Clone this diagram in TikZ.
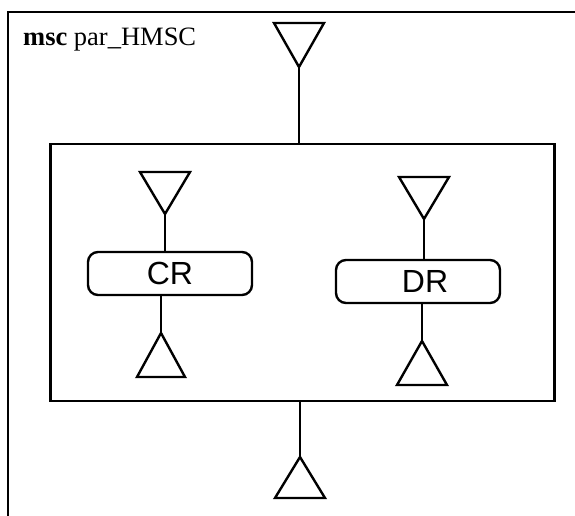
\documentclass[tikz,border=0pt]{standalone}
\usepackage{fontspec}
\setmainfont{Liberation Serif}
\newfontfamily\arialfont{Liberation Sans}
\begin{document}
\begin{tikzpicture}[x=1pt,y=-1pt, line width=2.4pt,
  refbox/.style={draw, rounded corners=10pt, minimum width=164pt, minimum height=43pt, inner sep=0pt, outer sep=0pt, font=\arialfont\fontsize{32}{38}\selectfont},
  parbox/.style={draw, minimum width=504pt, minimum height=257pt, inner sep=0pt, outer sep=0pt},
  tri/.style={draw, line join=miter}]
\useasboundingbox (0,0) rectangle (575,516);
% outer frame (cut at right and bottom)
\draw (8,516) -- (8,12) -- (575,12);
\node[anchor=base west, font=\fontsize{26.5}{31}\selectfont, inner sep=0pt] (title) at (22,46) {\textbf{msc} par\_HMSC};
% inner parallel frame
\node[parbox] (par) at (302.5,272.5) {};
% top start
\draw[tri] (274,23) -- (324,23) -- (299,67) -- cycle;
\coordinate (ts) at (299,67);
\draw (ts) -- (ts |- par.north);
% bottom end
\coordinate (be) at (300,457);
\draw (be |- par.south) -- (be);
\draw[tri] (be) -- (325,498) -- (275,498) -- cycle;
% CR
\node[refbox] (cr) at (170,273.5) {CR};
\draw[tri] (140,172) -- (190,172) -- (165,214) -- cycle;
\coordinate (crt) at (165,214);
\draw (crt) -- (crt |- cr.north);
\coordinate (crb) at (161,333);
\draw (crb |- cr.south) -- (crb);
\draw[tri] (crb) -- (185,377) -- (137,377) -- cycle;
% DR
\node[refbox] (dr) at (418,281.5) {\hspace{14pt}DR};
\draw[tri] (399,177) -- (449,177) -- (424,219) -- cycle;
\coordinate (drt) at (424,219);
\draw (drt) -- (drt |- dr.north);
\coordinate (drb) at (422,341);
\draw (drb |- dr.south) -- (drb);
\draw[tri] (drb) -- (447,385) -- (397,385) -- cycle;
\end{tikzpicture}
\end{document}
